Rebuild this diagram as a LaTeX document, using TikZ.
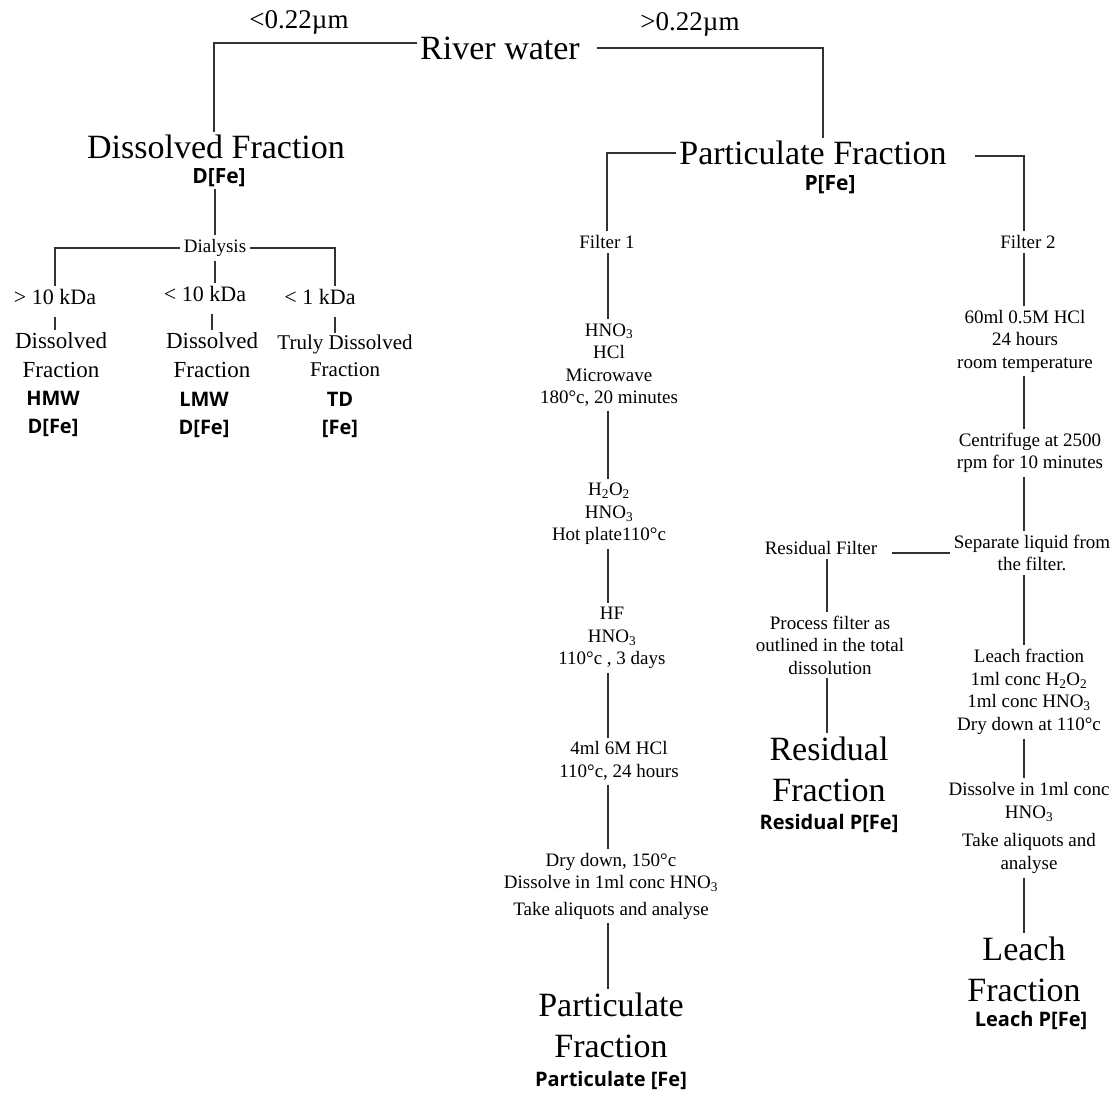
\documentclass[tikz,border=0pt]{standalone}
\usepackage{fontspec}
\setmainfont{Liberation Serif}
\newfontfamily\bsans{Open Sans}
\begin{document}
\begin{tikzpicture}[x=1pt,y=-1pt,
  conn/.style={line width=1.8pt, draw=black!80},
  big/.style={font={\fontsize{34}{41}\selectfont}, align=center, inner sep=3pt},
  mid/.style={font={\fontsize{27}{32}\selectfont}, inner sep=2pt},
  proc/.style={font={\fontsize{19}{22.5}\selectfont}, align=center, inner sep=4pt},
  kda/.style={font={\fontsize{22}{28}\selectfont}, align=center, inner sep=3pt},
  dfr/.style={font={\fontsize{23}{28.5}\selectfont}, align=center, inner sep=2pt},
  tdfr/.style={font={\fontsize{21}{26.5}\selectfont}, align=center, inner sep=2pt},
  lab/.style={font={\bsans\bfseries\fontsize{20}{28}\selectfont}, align=center, inner sep=2pt}]
\fill[white] (0,0) rectangle (1118,1093);
\useasboundingbox (0,0) rectangle (1118,1093);
\coordinate (c1) at (608,0);
\coordinate (c2) at (1024,0);
\coordinate (cr) at (827,0);
% top
\node[big] (river) at (500,48) {River water};
\node[mid] (lt) at (299,22) {<0.22µm};
\node[mid] (gt) at (690,24) {>0.22µm};
% dissolved side
\node[big] (dis) at (216,147) {Dissolved Fraction};
\node[lab,font={\bsans\bfseries\fontsize{21}{28}\selectfont}] (dfe) at (219,178) {D[Fe]};
\node[proc] (dial) at (215,248) {Dialysis};
\node[kda] (k1) at (55,297) {> 10 kDa};
\node[kda] (k2) at (205,294) {< 10 kDa};
\node[kda] (k3) at (320,297) {< 1 kDa};
\node[dfr] (d1) at (61,355) {Dissolved\\Fraction};
\node[dfr] (d2) at (212,355) {Dissolved\\Fraction};
\node[tdfr] (d3) at (345,356) {Truly Dissolved\\Fraction};
\node[lab] (l1) at (53,414) {HMW\\D[Fe]};
\node[lab] (l2) at (204,415) {LMW\\D[Fe]};
\node[lab] (l3) at (340,415) {TD\\{}[Fe]};
% particulate side
\node[big] (pf) at (813,153) {Particulate Fraction};
\node[lab,font={\bsans\bfseries\fontsize{21}{28}\selectfont}] (pfe) at (830,185) {P[Fe]};
\node[proc] (f1) at (607,242) {Filter 1};
\node[proc] (f2) at (1028,242) {Filter 2};
\node[proc] (a1) at (609,365) {HNO\textsubscript{3}\\HCl\\Microwave\\180°c, 20 minutes};
\node[proc] (a2) at (609,514) {H\textsubscript{2}O\textsubscript{2}\\HNO\textsubscript{3}\\Hot plate110°c};
\node[proc] (a3) at (612,638) {HF\\HNO\textsubscript{3}\\110°c , 3 days};
\node[proc] (a4) at (619,761) {4ml 6M HCl\\110°c, 24 hours};
\node[proc] (a5) at (611,886) {Dry down, 150°c\\Dissolve in 1ml conc HNO\textsubscript{3}\\[4pt]Take aliquots and analyse};
\node[big] (a6) at (611,1025) {Particulate\\Fraction};
\node[lab] (a6b) at (611,1080) {Particulate [Fe]};
\node[proc] (b1) at (1025,341) {60ml 0.5M HCl\\24 hours\\room temperature};
\node[proc] (b2) at (1030,453) {Centrifuge at 2500\\rpm for 10 minutes};
\node[proc] (b3) at (1032,553) {Separate liquid from\\the filter.};
\node[proc] (b4) at (1029,692) {Leach fraction\\1ml conc H\textsubscript{2}O\textsubscript{2}\\1ml conc HNO\textsubscript{3}\\Dry down at 110°c};
\node[proc] (b5) at (1029,828) {Dissolve in 1ml conc\\HNO\textsubscript{3}\\[6pt]Take aliquots and\\analyse};
\node[big] (b6) at (1024,969) {Leach\\Fraction};
\node[lab] (b6b) at (1031,1020) {Leach P[Fe]};
\node[proc] (r1) at (821,548) {Residual Filter};
\node[proc] (r2) at (830,645) {Process filter as\\outlined in the total\\dissolution};
\node[big] (r3) at (829,769) {Residual\\Fraction};
\node[lab] (r3b) at (829,823) {Residual P[Fe]};
% connectors: top
\draw[conn] ([yshift=5pt]river.west) -| ([xshift=-2pt]dis.north);
\draw[conn] ([xshift=14pt]river.east) -| ([xshift=10pt]pf.north);
% dissolved
\draw[conn] (dial.north |- dfe.south) -- (dial.north);
\draw[conn] (dial.west) -| (k1.north);
\draw[conn] (dial.east) -| ([xshift=15pt]k3.north);
\draw[conn] (dial.south) -- (dial.south |- k2.north);
\draw[conn] (k1.south) ++(0,9) -- (k1.south |- d1.north);
\draw[conn] (d2.north |- k2.south) ++(0,9) -- (d2.north);
\draw[conn] ([xshift=15pt]k3.south) ++(0,9) -- ([xshift=15pt]k3.south |- d3.north);
% particulate split
\draw[conn] (pf.west) -| (f1.north);
\draw[conn] ([xshift=25pt,yshift=-3pt]pf.east) -| (c2 |- f2.north);
% filter 1 column
\draw[conn] (c1 |- f1.south) -- (c1 |- a1.north);
\draw[conn] (c1 |- a1.south) -- (c1 |- a2.north);
\draw[conn] (c1 |- a2.south) -- (c1 |- a3.north);
\draw[conn] (c1 |- a3.south) -- (c1 |- a4.north);
\draw[conn] (c1 |- a4.south) -- (c1 |- a5.north);
\draw[conn] (c1 |- a5.south) -- (c1 |- a6.north);
% filter 2 column
\draw[conn] (c2 |- f2.south) -- (c2 |- b1.north);
\draw[conn] (c2 |- b1.south) -- (c2 |- b2.north);
\draw[conn] (c2 |- b2.south) -- (c2 |- b3.north);
\draw[conn] (c2 |- b3.south) -- (c2 |- b4.north);
\draw[conn] (c2 |- b4.south) -- (c2 |- b5.north);
\draw[conn] (c2 |- b5.south) -- (c2 |- b6.north);
% residual
\draw[conn] (b3.west) -- ([xshift=11pt]r1.east |- b3.west);
\draw[conn] (cr |- r1.south) -- (cr |- r2.north);
\draw[conn] (cr |- r2.south) -- (cr |- r3.north);
\end{tikzpicture}
\end{document}
